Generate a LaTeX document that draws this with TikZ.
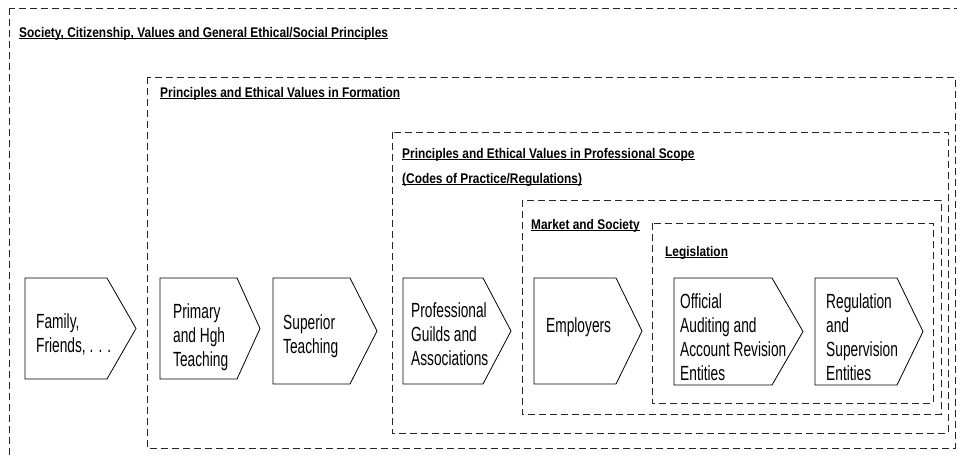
\documentclass[tikz,border=0pt]{standalone}
\usepackage{fontspec}
\setmainfont{Liberation Sans}
\newfontfamily\bodyfont[FakeStretch=0.67]{Liberation Sans}
\newfontfamily\titlefont[FakeStretch=0.85]{Liberation Sans Bold}
\newcommand\ulx[1]{\setbox0\hbox{#1}\rlap{\rule[-2.3pt]{\wd0}{0.9pt}}\box0}
\tikzset{
  scopebox/.style={draw=black!85, line width=0.8pt, dash pattern=on 7pt off 4pt},
  chevline/.style={draw=black, line width=0.8pt},
  chevtext/.style={inner sep=0pt, anchor=west, align=left,
    font=\bodyfont\fontsize{20.5}{24}\selectfont},
  boxtitle/.style={inner sep=0pt, anchor=base west,
    font=\titlefont\fontsize{14}{17}\selectfont},
}
\begin{document}
\begin{tikzpicture}[x=1pt,y=-1pt]
\useasboundingbox (0,0) rectangle (957,458);
\begin{scope}
\clip (0,0) rectangle (957,458);
\draw[scopebox] (9,8) rectangle (975,475);
\end{scope}
\draw[scopebox] (147,77) rectangle (955,448);
\draw[scopebox] (392,132) rectangle (948,433);
\draw[scopebox] (522,200) rectangle (941,414);
\draw[scopebox] (652,223) rectangle (933,403);

\node[boxtitle] (t1) at (19,37) {\ulx{Society, Citizenship, Values and General Ethical/Social Principles}};
\node[boxtitle] (t2) at (160,97) {\ulx{Principles and Ethical Values in Formation}};
\node[boxtitle] (t3a) at (402,158) {\ulx{Principles and Ethical Values in Professional Scope}};
\node[boxtitle] (t3b) at (402,183) {\ulx{(Codes of Practice/Regulations)}};
\node[boxtitle] (t4) at (531,229) {\ulx{Market and Society}};
\node[boxtitle] (t5) at (665,256) {\ulx{Legislation}};

% chevrons
\draw[chevline] (25,278) -- (107,278) -- (136,328.5) -- (107,379) -- (25,379) -- cycle;
\node[chevtext] (fam) at (36,334) {Family,\\Friends,~. . .};
\draw[chevline] (160,278) -- (237,278) -- (260,328.5) -- (237,379) -- (160,379) -- cycle;
\node[chevtext] (prim) at (173,337) {Primary\\and Hgh\\Teaching};
\draw[chevline] (273,278) -- (350,278) -- (377,331) -- (350,384) -- (273,384) -- cycle;
\node[chevtext] (sup) at (283,336) {Superior\\Teaching};
\draw[chevline] (403,278) -- (483,278) -- (511,331) -- (483,384) -- (403,384) -- cycle;
\node[chevtext] (prof) at (411,334) {Professional\\Guilds and\\Associations};
\draw[chevline] (534,278) -- (616,278) -- (642,331) -- (616,384) -- (534,384) -- cycle;
\node[chevtext] (emp) at (546,327) {Employers};
\draw[chevline] (674,278) -- (772,278) -- (803,331.5) -- (772,385) -- (674,385) -- cycle;
\node[chevtext] (off) at (680,337) {Official\\Auditing and\\Account Revision\\Entities};
\draw[chevline] (815,278) -- (897,278) -- (923,331.5) -- (897,385) -- (815,385) -- cycle;
\node[chevtext] (reg) at (826,337) {Regulation\\and\\Supervision\\Entities};
\end{tikzpicture}
\end{document}
